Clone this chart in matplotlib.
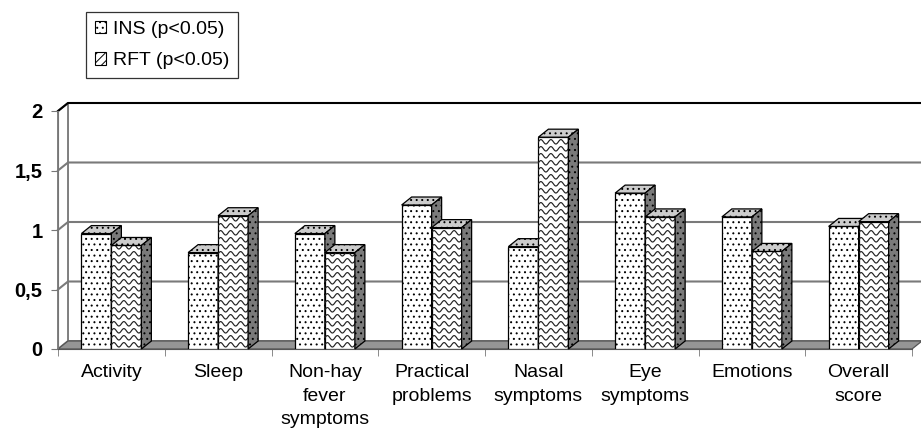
import numpy as np
import matplotlib.pyplot as plt
from matplotlib.patches import Polygon, Rectangle, Patch

categories = ['Activity', 'Sleep', 'Non-hay\nfever\nsymptoms', 'Practical\nproblems',
              'Nasal\nsymptoms', 'Eye\nsymptoms', 'Emotions', 'Overall\nscore']
ins_values = [0.97, 0.81, 0.97, 1.21, 0.86, 1.31, 1.11, 1.03]
rft_values = [0.87, 1.12, 0.81, 1.02, 1.78, 1.11, 0.82, 1.07]
yticks = [0, 0.5, 1, 1.5, 2]
ytick_labels = ['0', '0,5', '1', '1,5', '2']
legend_labels = ['INS (p<0.05)', 'RFT (p<0.05)']

plt.rcParams['font.family'] = ['Liberation Sans', 'DejaVu Sans']
plt.rcParams['hatch.linewidth'] = 0.7

fig = plt.figure(figsize=(9.21, 4.32), dpi=100)
ax = fig.add_axes([58 / 921, 83 / 432, 854 / 921, 238 / 432])
ax.set_xlim(-0.5, 7.5)
ax.set_ylim(0, 2)

# fake 3d depth, in data units
dx = 10 / 106.75
dy = 8 / 119.0
n = len(categories)
left, right = -0.5, n - 0.5

# back wall, side wall and floor
ax.add_patch(Rectangle((left + dx, dy), n, 2, facecolor='white', edgecolor='#808080',
                       lw=1.4, clip_on=False, zorder=0))
ax.add_patch(Polygon([(left, 0), (left + dx, dy), (left + dx, 2 + dy), (left, 2)],
                     facecolor='white', edgecolor='#808080', lw=1.4, clip_on=False, zorder=0.5))
ax.add_patch(Polygon([(left, 0), (right, 0), (right + dx, dy), (left + dx, dy)],
                     facecolor='#959595', edgecolor='#555555', lw=0.9, clip_on=False, zorder=1))
for v in yticks[1:]:
    col = 'black' if v == yticks[-1] else '#7a7a7a'
    ax.plot([left, left + dx, right + dx], [v, v + dy, v + dy], color=col, lw=1.5,
            clip_on=False, zorder=0.8)

w = 30 / 106.75
amp = 2.2 / 119.0
period = 10 / 106.75
spacing = 7 / 119.0


def draw_bar(x, h, z, wavy):
    front = ax.bar(x, h, width=w, align='edge', facecolor='white', edgecolor='black',
                   hatch=None if wavy else '...', lw=0.9, zorder=z)[0]
    if wavy:
        xs = np.linspace(x, x + w, 80)
        for lev in np.arange(spacing * 0.6, h + spacing, spacing):
            ln, = ax.plot(xs, lev + amp * np.sin(2 * np.pi * (xs - x) / period),
                          color='#222222', lw=0.85, zorder=z + 0.01)
            ln.set_clip_path(front)
    top = Polygon([(x, h), (x + w, h), (x + w + dx, h + dy), (x + dx, h + dy)],
                  facecolor='#cccccc', edgecolor='black', hatch='...', lw=0.9,
                  zorder=z + 0.02, clip_on=False)
    side = Polygon([(x + w, 0), (x + w + dx, dy), (x + w + dx, h + dy), (x + w, h)],
                   facecolor='#7a7a7a', edgecolor='black', hatch='...', lw=0.9,
                   zorder=z + 0.02, clip_on=False)
    ax.add_patch(top)
    ax.add_patch(side)


for i in range(n):
    draw_bar(i - w, ins_values[i], 3 + i * 0.2, False)
    draw_bar(i, rft_values[i], 3.1 + i * 0.2, True)

ax.set_xticks(range(n))
ax.set_xticklabels(categories, fontsize=14, linespacing=1.5)
ax.set_xticks(np.arange(left, right + 0.01, 1), minor=True)
ax.tick_params(axis='x', which='major', length=0, pad=11)
ax.tick_params(axis='x', which='minor', length=5, color='#777777', direction='out')
ax.set_yticks(yticks)
ax.set_yticklabels(ytick_labels, fontsize=14.5, fontweight='bold')
ax.tick_params(axis='y', length=5, color='#777777', pad=6)
for s in ['top', 'right']:
    ax.spines[s].set_visible(False)
ax.spines['left'].set_color('#777777')
ax.spines['bottom'].set_color('#555555')
ax.patch.set_visible(False)

handles = [Patch(facecolor='white', edgecolor='black', hatch='...', lw=0.8),
           Patch(facecolor='white', edgecolor='black', hatch='////', lw=0.8)]
leg = fig.legend(handles, legend_labels, loc='upper left',
                 bbox_to_anchor=(86 / 921, 1 - 12 / 432), fontsize=14, frameon=True,
                 fancybox=False, edgecolor='black', handlelength=0.6, handleheight=0.6,
                 handletextpad=0.35, borderpad=0.45, labelspacing=0.75, borderaxespad=0)
leg.get_frame().set_linewidth(0.9)

fig.savefig('out.png', dpi=100)
